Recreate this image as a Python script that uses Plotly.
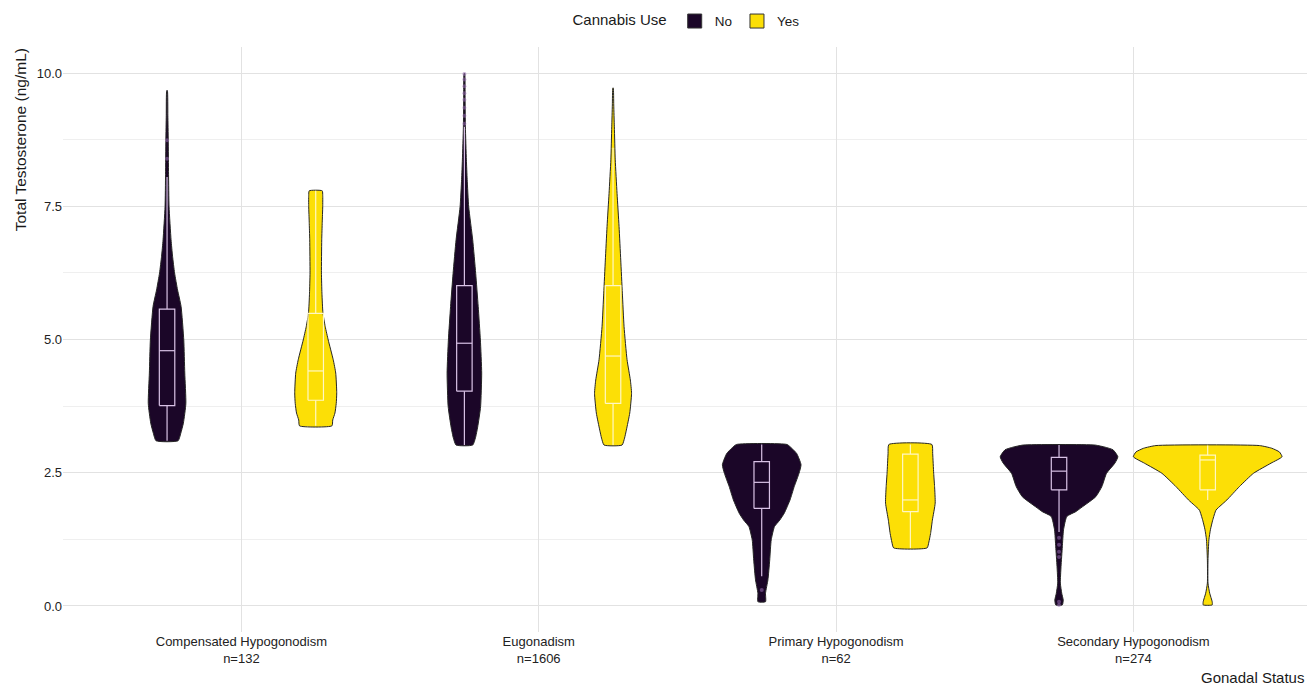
import plotly.graph_objects as go

# ---- data -------------------------------------------------------------
groups = ["Compensated Hypogonodism", "Eugonadism", "Primary Hypogonodism", "Secondary Hypogonodism"]
group_n = [132, 1606, 62, 274]
use_levels = ["No", "Yes"]

# violin outlines: testosterone levels and relative density at each level
comp_no_y = [3.10, 3.24, 3.43, 3.80, 4.37, 4.99, 5.62, 5.93, 6.25, 6.56, 6.87, 7.49, 8.10, 8.74, 9.20, 9.67]
comp_no_d = [11.0, 13.7, 16.3, 18.8, 17.7, 16.7, 14.0, 10.5, 7.5, 5.5, 4.0, 2.0, 1.5, 1.2, 0.8, 0.3]
comp_yes_y = [3.38, 3.49, 3.62, 3.80, 4.00, 4.37, 4.62, 4.99, 5.24, 5.50, 5.87, 6.25, 6.87, 7.20, 7.49, 7.70, 7.79]
comp_yes_d = [16.2, 17.0, 19.2, 20.5, 21.0, 20.0, 17.5, 12.5, 9.5, 7.2, 6.2, 5.7, 6.0, 6.5, 7.0, 7.0, 6.5]

eugo_no_y = [3.02, 3.15, 3.36, 3.74, 4.37, 4.99, 5.62, 6.24, 6.87, 7.49, 8.00, 8.37, 8.99, 9.50, 9.99]
eugo_no_d = [8.3, 11.0, 13.3, 16.2, 17.3, 16.0, 13.8, 11.3, 8.3, 4.3, 2.8, 2.0, 1.0, 0.7, 0.3]
eugo_yes_y = [3.02, 3.15, 3.30, 3.62, 3.99, 4.24, 4.62, 5.24, 5.87, 6.49, 7.12, 7.74, 8.37, 8.99, 9.40, 9.72]
eugo_yes_d = [9.0, 11.5, 13.3, 16.7, 18.5, 17.3, 14.0, 11.0, 9.3, 7.7, 6.0, 4.0, 2.2, 1.3, 0.7, 0.2]

prim_no_y = [0.08, 0.24, 0.49, 0.86, 1.24, 1.49, 1.61, 1.74, 1.99, 2.24, 2.49, 2.65, 2.86, 2.96, 3.03]
prim_no_d = [3.8, 3.8, 6.2, 8.0, 9.5, 12.8, 18.0, 22.5, 28.3, 32.5, 37.3, 39.3, 35.0, 30.0, 25.3]
prim_yes_y = [1.09, 1.20, 1.36, 1.61, 1.93, 2.24, 2.49, 2.86, 3.03]
prim_yes_d = [16.7, 18.5, 20.2, 22.0, 24.8, 24.2, 23.3, 22.3, 21.5]

sec_no_y = [0.02, 0.11, 0.24, 0.43, 0.74, 1.11, 1.43, 1.68, 1.77, 1.86, 2.05, 2.24, 2.49, 2.68, 2.80, 2.93, 2.98, 3.02]
sec_no_d = [3.3, 4.2, 2.7, 1.3, 2.0, 3.3, 4.5, 7.8, 16.7, 23.3, 36.7, 42.8, 47.5, 55.8, 58.8, 54.0, 46.0, 35.8]
sec_yes_y = [0.02, 0.08, 0.24, 0.43, 0.86, 1.24, 1.43, 1.61, 1.80, 1.89, 1.99, 2.24, 2.49, 2.68, 2.80, 2.89, 2.96, 3.01]
sec_yes_d = [4.5, 4.5, 2.0, 0.3, 0.3, 1.2, 2.7, 5.0, 8.3, 13.3, 19.2, 31.7, 45.8, 63.3, 74.3, 71.7, 64.0, 51.7]

# box summaries: lower whisker, Q1, median, Q3, upper whisker
comp_no_box = [3.10, 3.76, 4.79, 5.57, 8.05]
comp_yes_box = [3.38, 3.86, 4.41, 5.49, 7.79]
eugo_no_box = [3.02, 4.03, 4.93, 6.01, 8.99]
eugo_yes_box = [3.02, 3.80, 4.69, 6.01, 8.60]
prim_no_box = [0.56, 1.83, 2.32, 2.71, 3.03]
prim_yes_box = [1.09, 1.77, 1.99, 2.85, 3.03]
sec_no_box = [1.39, 2.18, 2.53, 2.79, 3.02]
sec_yes_box = [1.99, 2.18, 2.74, 2.83, 3.01]

# outlying observations
comp_no_out = [8.74, 8.39]
eugo_no_out = [9.05, 9.20, 9.35, 9.50, 9.62, 9.75, 9.88, 9.98]
prim_no_out = [0.30]
sec_no_out = [1.28, 1.15, 1.02, 0.92, 0.08, 0.02]

violins = [
    (0, "No", comp_no_y, comp_no_d, comp_no_box, comp_no_out),
    (0, "Yes", comp_yes_y, comp_yes_d, comp_yes_box, []),
    (1, "No", eugo_no_y, eugo_no_d, eugo_no_box, eugo_no_out),
    (1, "Yes", eugo_yes_y, eugo_yes_d, eugo_yes_box, []),
    (2, "No", prim_no_y, prim_no_d, prim_no_box, prim_no_out),
    (2, "Yes", prim_yes_y, prim_yes_d, prim_yes_box, []),
    (3, "No", sec_no_y, sec_no_d, sec_no_box, sec_no_out),
    (3, "Yes", sec_yes_y, sec_yes_d, sec_yes_box, []),
]

# ---- styling ----------------------------------------------------------
FILL = {"No": "#1b0628", "Yes": "#fcdf06"}
BOXLINE = {"No": "#d9c2e6", "Yes": "#fff7c4"}
OUTLIER = {"No": "rgba(150,110,175,0.55)", "Yes": "rgba(255,255,255,0.6)"}
DODGE = 0.25
VIOLIN_HALF = 0.25
BOX_HALF = 0.026
FONT = "Liberation Sans, Arial, sans-serif"

dmax = max(max(v[3]) for v in violins)

fig = go.Figure()
for gi, lvl, ys, ds, box, outs in violins:
    cx = gi + 1 + (-DODGE if lvl == "No" else DODGE)
    half = [d / dmax * VIOLIN_HALF for d in ds]
    xs = [cx + h for h in half] + [cx - h for h in reversed(half)]
    yy = list(ys) + list(reversed(ys))
    fig.add_trace(go.Scatter(
        x=xs + [xs[0]], y=yy + [yy[0]], mode="lines", fill="toself",
        fillcolor=FILL[lvl], line=dict(color="#262626", width=1, shape="spline", smoothing=0.5),
        legendgroup=lvl, showlegend=False, hoverinfo="skip",
    ))

    lo, q1, med, q3, hi = box
    bx = [cx - BOX_HALF, cx + BOX_HALF, cx + BOX_HALF, cx - BOX_HALF, cx - BOX_HALF, None,
          cx - BOX_HALF, cx + BOX_HALF, None, cx, cx, None, cx, cx]
    by = [q1, q1, q3, q3, q1, None, med, med, None, lo, q1, None, q3, hi]
    fig.add_trace(go.Scatter(
        x=bx, y=by, mode="lines", line=dict(color=BOXLINE[lvl], width=1.2),
        legendgroup=lvl, showlegend=False, hoverinfo="skip",
    ))
    if outs:
        fig.add_trace(go.Scatter(
            x=[cx] * len(outs), y=outs, mode="markers",
            marker=dict(color=OUTLIER[lvl], size=4),
            legendgroup=lvl, showlegend=False, hoverinfo="skip",
        ))

# legend keys: filled squares
for lvl in use_levels:
    fig.add_trace(go.Scatter(
        x=[None], y=[None], mode="markers", name=lvl, legendgroup=lvl,
        marker=dict(symbol="square", size=14, color=FILL[lvl],
                    line=dict(color="#333333", width=1)),
    ))

tick_text = [f"{g}<br>n={n}" for g, n in zip(groups, group_n)]

fig.update_layout(
    width=1307, height=686,
    margin=dict(l=63, r=0, t=47, b=54),
    paper_bgcolor="white", plot_bgcolor="white",
    font=dict(family=FONT, size=13, color="#1a1a1a"),
    legend=dict(
        orientation="h", x=0.502, xanchor="center", y=1.044, yanchor="middle",
        title=dict(text="Cannabis Use", font=dict(size=15, color="#1a1a1a"), side="left"),
        font=dict(size=13.5, color="#1a1a1a"), itemwidth=30, tracegroupgap=0,
    ),
    xaxis=dict(
        range=[0.4, 4.584], tickmode="array", tickvals=[1, 2, 3, 4], ticktext=tick_text,
        showgrid=True, gridcolor="#e2e2e2", gridwidth=1, zeroline=False, showline=False,
        ticks="", tickfont=dict(size=13, color="#222222"), fixedrange=True,
    ),
    yaxis=dict(
        range=[-0.488, 10.488], tick0=0, dtick=2.5, tickformat=".1f",
        showgrid=True, gridcolor="#e2e2e2", gridwidth=1, zeroline=False, showline=False,
        ticks="", tickfont=dict(size=13, color="#222222"),
        minor=dict(dtick=1.25, tick0=0, showgrid=True, gridcolor="#efefef", gridwidth=1),
    ),
    annotations=[
        dict(text="Total Testosterone (ng/mL)", xref="paper", yref="paper",
             x=-0.0346, y=1.002, xanchor="center", yanchor="top", textangle=-90,
             showarrow=False, font=dict(size=15.5, color="#1a1a1a")),
        dict(text="Gonadal Status", xref="paper", yref="paper",
             x=0.999, y=-0.0786, xanchor="right", yanchor="middle",
             showarrow=False, font=dict(size=15, color="#1a1a1a")),
    ],
)

fig.write_html("out.html")
